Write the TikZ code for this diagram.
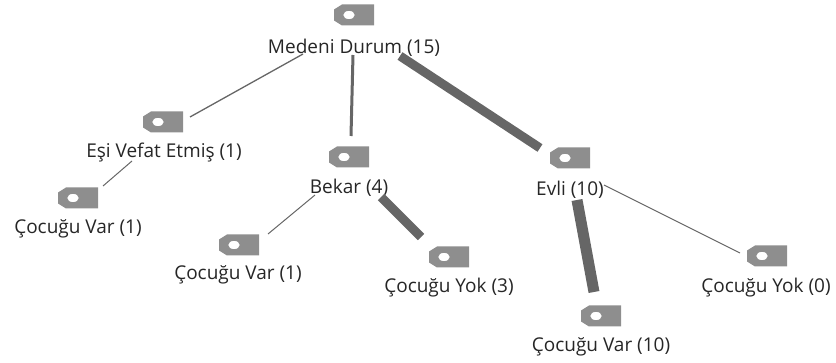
\documentclass[tikz,border=0pt]{standalone}
\usepackage{fontspec}
\setmainfont{Open Sans}
\usetikzlibrary{calc}
\definecolor{tagcol}{HTML}{8E8E8E}
\definecolor{linecol}{HTML}{666666}
\tikzset{
	tagicon/.style={minimum width=40pt, minimum height=21pt, inner sep=0pt, path picture={
		\fill[tagcol, even odd rule] ($(path picture bounding box.north west)+(8,0)$) -- (path picture bounding box.north east) -- (path picture bounding box.south east) -- ($(path picture bounding box.south west)+(8,0)$) -- ($(path picture bounding box.south west)+(0,-5)$) -- ($(path picture bounding box.north west)+(0,5)$) -- cycle ($(path picture bounding box.center)+(-5,0)$) ellipse (5.8 and 4.2);
	}},
	label/.style={inner sep=1pt, text=black!85, font=\fontsize{19pt}{22pt}\selectfont},
	edge/.style={draw=linecol, line width=#1},
}
\begin{document}
\begin{tikzpicture}[x=1pt, y=-1pt]
	\useasboundingbox (0,0) rectangle (836,363);
	\node[tagicon] (medenitag) at (354,15) {};
	\node[tagicon] (esitag) at (163,122) {};
	\node[tagicon] (esivartag) at (78,198) {};
	\node[tagicon] (bekartag) at (349,157) {};
	\node[tagicon] (evlitag) at (570,158) {};
	\node[tagicon] (bekarvartag) at (239,245) {};
	\node[tagicon] (bekaryoktag) at (449,257) {};
	\node[tagicon] (evlivartag) at (601,316) {};
	\node[tagicon] (evliyoktag) at (767,256) {};
	\node[label] (medeni) at (354,48) {Medeni Durum (15)};
	\node[label] (esi) at (164,153) {Eşi Vefat Etmiş (1)};
	\node[label] (esivar) at (78,229) {Çocuğu Var (1)};
	\node[label] (bekar) at (349,188) {Bekar (4)};
	\node[label] (evli) at (570,190) {Evli (10)};
	\node[label] (bekarvar) at (238,275) {Çocuğu Var (1)};
	\node[label] (bekaryok) at (449,288) {Çocuğu Yok (3)};
	\node[label] (evlivar) at (601,347) {Çocuğu Var (10)};
	\node[label] (evliyok) at (766,288) {Çocuğu Yok (0)};
	\draw[edge=1.3pt] ([shift={(-51,6)}]medeni.center) -- ([shift={(27,-5)}]esitag.center);
	\draw[edge=3pt] ([shift={(-1,7)}]medeni.center) -- ([shift={(2,-21)}]bekartag.center);
	\draw[edge=9pt] ([shift={(46,8)}]medeni.center) -- ([shift={(-30,-10)}]evlitag.center);
	\draw[edge=1pt] ([shift={(-32,8)}]esi.center) -- ([shift={(25,-12)}]esivartag.center);
	\draw[edge=1pt] ([shift={(-34,7)}]bekar.center) -- ([shift={(29,-11)}]bekarvartag.center);
	\draw[edge=9pt] ([shift={(32,9)}]bekar.center) -- ([shift={(-28,-20)}]bekaryoktag.center);
	\draw[edge=11pt] ([shift={(7,10)}]evli.center) -- ([shift={(-7,-24)}]evlivartag.center);
	\draw[edge=1pt] ([shift={(34,-5)}]evli.center) -- ([shift={(-27,-3)}]evliyoktag.center);
\end{tikzpicture}
\end{document}
